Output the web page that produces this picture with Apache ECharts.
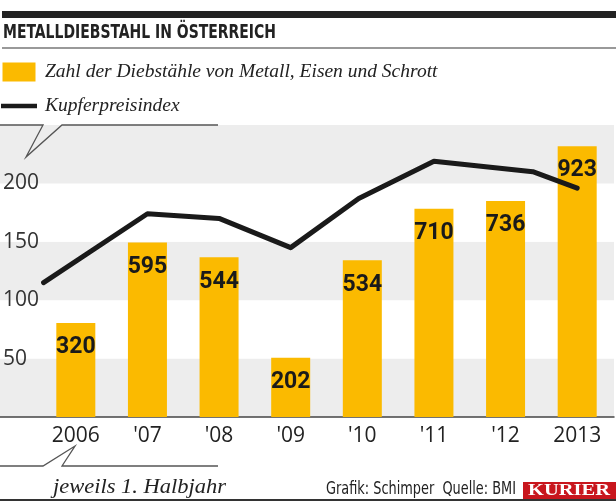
<!DOCTYPE html>
<html><head><meta charset="utf-8">
<script src="https://cdn.jsdelivr.net/npm/echarts@6/dist/echarts.min.js"></script>
<style>html,body{margin:0;padding:0;background:#fff}#c{width:616px;height:501px}</style>
</head><body><div id="c"></div>
<script>
const categories = ['2006', "'07", "'08", "'09", "'10", "'11", "'12", '2013'];
const theftCounts = [320, 595, 544, 202, 534, 710, 736, 923];
const copperYears = [2005.55, 2007, 2008, 2009, 2009.95, 2011, 2012.38, 2013];
const copperIndex = [115, 174, 170, 145, 187, 219, 210, 196];
const indexTicks = [0, 50, 100, 150, 200, 250];

const barName = 'Zahl der Diebstähle von Metall, Eisen und Schrott';
const lineName = 'Kupferpreisindex';
const titleText = 'METALLDIEBSTAHL IN ÖSTERREICH';
const noteText = 'jeweils 1. Halbjahr';
const creditText = 'Grafik: Schimper  Quelle: BMI';
const brandText = 'KURIER';

const condensed = '"DejaVu Sans Condensed","Roboto",sans-serif';
const serif = '"Liberation Serif","DejaVu Serif",serif';
const axisFont = '"Open Sans","Noto Sans",sans-serif';
const labelFont = 'Roboto,"Noto Sans",sans-serif';

function textWidth(text, family, size, weight, style) {
  const t = new echarts.graphic.Text({style: {text: text, fontFamily: family, fontSize: size,
    fontWeight: weight || 'normal', fontStyle: style || 'normal'}});
  return t.getBoundingRect().width;
}
const titleScale = 273 / textWidth(titleText, condensed, 19, 'bold');
const noteScale = 173 / textWidth(noteText, serif, 22, 'normal', 'italic');
const creditScale = 190 / textWidth(creditText, condensed, 17);
const brandScale = 82 / textWidth(brandText, serif, 17, 'bold');

const chart = echarts.init(document.getElementById('c'), null, {renderer: 'canvas'});
chart.setOption({
  animation: false,
  backgroundColor: '#fff',
  grid: [
    {left: 0, right: 2, top: 125, bottom: 84},
    {left: 40, right: 3, top: 125, bottom: 84}
  ],
  legend: {
    left: 1, top: 62, orient: 'vertical', padding: 0, itemGap: 14, itemWidth: 36, itemHeight: 19,
    selectedMode: false,
    textStyle: {fontFamily: serif, fontStyle: 'italic', fontSize: 19.5, color: '#222', padding: [0,0,0,3]},
    data: [
      {name: barName, icon: 'path://M2,0 L35,0 L35,19 L2,19 Z'},
      {name: lineName, icon: 'path://M0,0 L38,0 L38,5 L0,5 Z', itemStyle: {color: '#1a1a1a'}}
    ]
  },
  xAxis: [
    {type: 'category', gridIndex: 0, data: categories, show: true,
     axisLine: {show: true, lineStyle: {color: '#444', width: 1.5}},
     axisTick: {show: false}, axisLabel: {show: false}},
    {type: 'category', gridIndex: 1, data: categories,
     axisLine: {show: false}, axisTick: {show: false},
     axisLabel: {margin: 9, fontFamily: axisFont, fontSize: 21, color: '#222'}},
    {type: 'value', gridIndex: 1, min: 2005.5, max: 2013.5, show: false}
  ],
  yAxis: [
    {type: 'value', gridIndex: 0, min: indexTicks[0], max: indexTicks[indexTicks.length-1], interval: 50,
     axisLine: {show: false}, axisTick: {show: false}, splitLine: {show: false},
     splitArea: {show: true, areaStyle: {color: ['#ededed', '#ffffff']}},
     axisLabel: {inside: true, margin: 3, showMinLabel: false, showMaxLabel: false,
       fontFamily: axisFont, fontSize: 21, color: '#333', verticalAlign: 'middle', padding: [4, 0, 0, 0]}},
    {type: 'value', gridIndex: 1, min: 0, max: 995, show: false},
    {type: 'value', gridIndex: 1, min: indexTicks[0], max: indexTicks[indexTicks.length-1], show: false}
  ],
  series: [
    {name: barName, type: 'bar', xAxisIndex: 1, yAxisIndex: 1, data: theftCounts, barWidth: 39,
     itemStyle: {color: '#fbba00'},
     label: {show: true, position: 'insideTop', distance: 13, fontFamily: labelFont, fontWeight: 'bold',
       fontSize: 23, color: '#1a1a1a'}},
    {name: lineName, type: 'line', xAxisIndex: 2, yAxisIndex: 2,
     data: copperYears.map((y, i) => [y, copperIndex[i]]),
     showSymbol: false, symbol: 'none', lineStyle: {color: '#1a1a1a', width: 5, cap: 'round', join: 'round'},
     itemStyle: {color: '#1a1a1a'}, z: 5}
  ],
  graphic: [
    {type: 'rect', shape: {x: 2, y: 11, width: 614, height: 7}, style: {fill: '#222'}},
    {type: 'text', x: 3, y: 24, scaleX: titleScale, style: {text: titleText, fontFamily: condensed,
      fontWeight: 'bold', fontSize: 19, fill: '#222'}},
    {type: 'line', shape: {x1: 2, y1: 48, x2: 616, y2: 48}, style: {stroke: '#777', lineWidth: 1.5}},
    {type: 'polyline', shape: {points: [[0,125],[43,125],[26,157],[62,125],[218,125]]},
     style: {stroke: '#555', lineWidth: 1.3, fill: null}, z: 10},
    {type: 'polyline', shape: {points: [[0,466],[43,466],[75,446],[62,466],[218,466]]},
     style: {stroke: '#555', lineWidth: 1.3, fill: null}, z: 10},
    {type: 'text', x: 53, y: 476, scaleX: noteScale, style: {text: noteText, fontFamily: serif,
      fontStyle: 'italic', fontSize: 22, fill: '#222'}},
    {type: 'text', x: 326, y: 481, scaleX: creditScale, style: {text: creditText, fontFamily: condensed,
      fontSize: 17, fill: '#222'}},
    {type: 'rect', shape: {x: 523, y: 482, width: 93, height: 18}, style: {fill: '#c8161d'}},
    {type: 'text', x: 528, y: 482, scaleX: brandScale, style: {text: brandText, fontFamily: serif, fontWeight: 'bold',
      fontSize: 17, fill: '#fff'}},
    {type: 'line', shape: {x1: 0, y1: 500, x2: 616, y2: 500}, style: {stroke: '#333', lineWidth: 2}}
  ]
});
</script></body></html>
